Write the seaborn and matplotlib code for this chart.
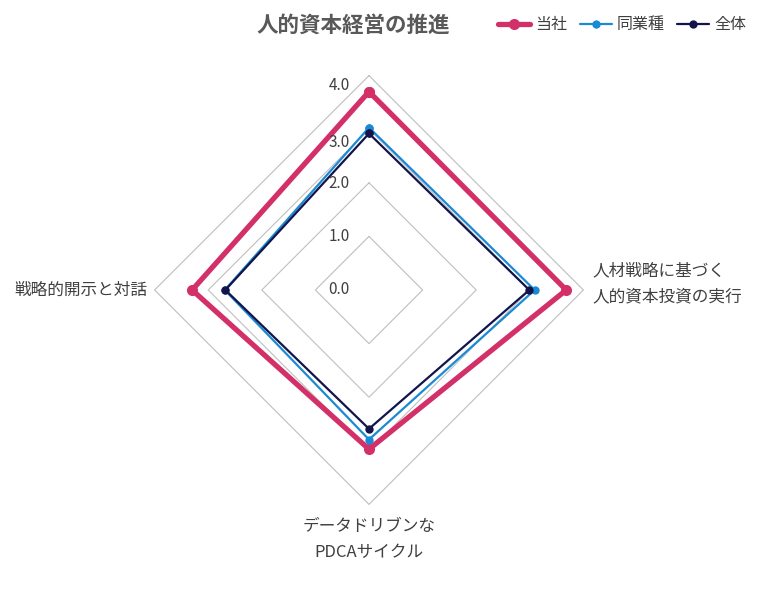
import numpy as np
import pandas as pd
import matplotlib
matplotlib.use("Agg")
import matplotlib.pyplot as plt
import seaborn as sns

# --- data ---
categories = ["top", "right", "bottom", "left"]
category_labels = [
    "",
    "人材戦略に基づく\n人的資本投資の実行",
    "データドリブンな\nPDCAサイクル",
    "戦略的開示と対話",
]
series_names = ["当社", "同業種", "全体"]
company_values = [3.70, 3.68, 2.97, 3.30]
industry_values = [3.03, 3.09, 2.79, 2.69]
overall_values = [2.92, 2.99, 2.59, 2.68]
ring_values = [1.0, 2.0, 3.0, 4.0]
tick_labels = ["0.0", "1.0", "2.0", "3.0", "4.0"]

COLORS = ["#D3306A", "#1A8AD4", "#13154A"]
LINE_WIDTHS = [3.8, 1.6, 1.6]
MARKER_SIZES = [8, 6, 6]
TEXT_COLOR = "#404040"
GRID_COLOR = "#BFBFBF"
FONTS = ["Noto Sans CJK JP", "DejaVu Sans"]

sns.set_theme(style="white")
plt.rcParams["font.family"] = FONTS

# angles clockwise from the top
angles = np.arange(len(categories)) * 2 * np.pi / len(categories)


def to_xy(values):
    vals = np.append(values, values[0])
    ang = np.append(angles, angles[0])
    return vals * np.sin(ang), vals * np.cos(ang)


rows = []
for name, values in zip(series_names, [company_values, industry_values, overall_values]):
    x, y = to_xy(np.array(values))
    for order, (xi, yi) in enumerate(zip(x, y)):
        rows.append({"series": name, "order": order, "x": xi, "y": yi})
df = pd.DataFrame(rows)

fig = plt.figure(figsize=(7.6, 6.09), dpi=100)
ax = fig.add_axes([0, 0, 1, 1])
unit = 53.6
ax.set_xlim(-369 / unit, (760 - 369) / unit)
ax.set_ylim(-(609 - 290) / unit, 290 / unit)
ax.axis("off")

# diamond grid
for ring in ring_values:
    gx, gy = to_xy(np.full(len(categories), ring))
    ax.plot(gx, gy, color=GRID_COLOR, linewidth=0.8, zorder=1)

for name, color, lw, ms in zip(series_names, COLORS, LINE_WIDTHS, MARKER_SIZES):
    sns.lineplot(
        data=df[df["series"] == name],
        x="x",
        y="y",
        sort=False,
        estimator=None,
        color=color,
        linewidth=lw,
        marker="o",
        markersize=ms,
        markeredgewidth=0,
        label=name,
        ax=ax,
        zorder=3,
    )
ax.get_legend().remove()

# radial tick labels (Excel places the upper ones slightly lower)
label_radii = [0.0, 0.99, 1.98, 2.76, 3.81]
for r, text in zip(label_radii, tick_labels):
    ax.text(-0.36, r, text, ha="right", va="center", fontsize=11, color=TEXT_COLOR)

# category labels
ax.text(4.16, 0.11, category_labels[1], ha="left", va="center",
        fontsize=12, color=TEXT_COLOR, linespacing=1.7)
ax.text(0.0, -4.65, category_labels[2], ha="center", va="center",
        fontsize=12, color=TEXT_COLOR, linespacing=1.7)
ax.text(-4.14, 0.0, category_labels[3], ha="right", va="center",
        fontsize=12, color=TEXT_COLOR)

fig.text(353 / 760, 1 - 25 / 609, "人的資本経営の推進", ha="center", va="center",
         fontsize=15.5, fontweight="bold", color="#595959")

handles, labels = ax.get_legend_handles_labels()
fig.legend(
    handles,
    labels,
    loc="center left",
    bbox_to_anchor=(484 / 760, 1 - 25 / 609),
    ncol=3,
    frameon=False,
    handlelength=2.0,
    handletextpad=0.3,
    columnspacing=0.8,
    prop={"family": FONTS, "size": 11.5},
    labelcolor=TEXT_COLOR,
)

fig.savefig("out.png", dpi=100, facecolor="white")
